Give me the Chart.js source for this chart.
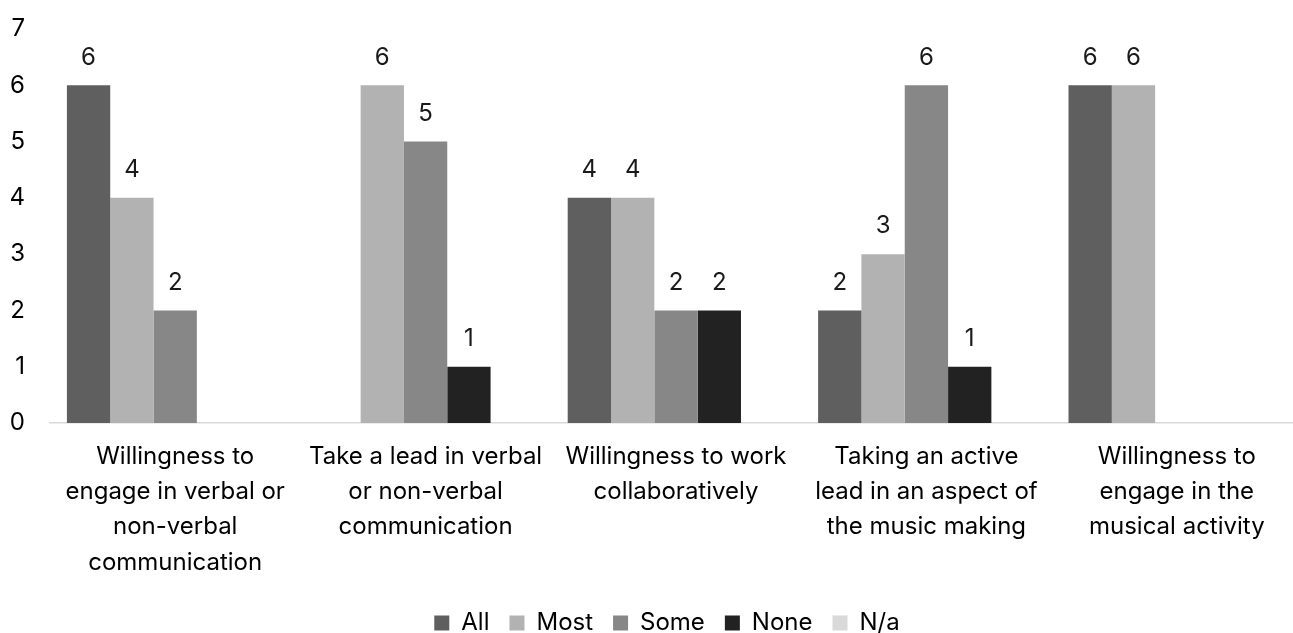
<!DOCTYPE html>
<html>
<head>
<meta charset="utf-8">
<script src="https://cdn.jsdelivr.net/npm/chart.js@4.4.1/dist/chart.umd.min.js"></script>
<style>
  html, body { margin: 0; padding: 0; background: #fff; overflow: hidden; }
  #wrap { width: 1323px; height: 645px; }
</style>
</head>
<body>
<div id="wrap"><canvas id="chart"></canvas></div>
<script>
// ===== DATA =====
const categories = [
  ['Willingness to', 'engage in verbal or', 'non-verbal', 'communication'],
  ['Take a lead in verbal', 'or non-verbal', 'communication'],
  ['Willingness to work', 'collaboratively'],
  ['Taking an active', 'lead in an aspect of', 'the music making'],
  ['Willingness to', 'engage in the', 'musical activity']
];
const seriesNames = ['All', 'Most', 'Some', 'None', 'N/a'];
const allVals  = [6, 0, 4, 2, 6];
const mostVals = [4, 6, 4, 3, 6];
const someVals = [2, 5, 2, 6, 0];
const noneVals = [0, 1, 2, 1, 0];
const naVals   = [0, 0, 0, 0, 0];
const yTicks = [0, 1, 2, 3, 4, 5, 6, 7];

const colors = ['#5f5f5f', '#b2b2b2', '#878787', '#222222', '#d9d9d9'];
const seriesVals = [allVals, mostVals, someVals, noneVals, naVals];

Chart.defaults.font.family = 'Inter, "Open Sans", sans-serif';
Chart.defaults.font.size = 24;
Chart.defaults.color = '#000';

// value labels above non-zero bars
const valueLabels = {
  id: 'valueLabels',
  afterDatasetsDraw(chart) {
    const ctx = chart.ctx;
    ctx.save();
    ctx.font = '24px Inter, "Open Sans", sans-serif';
    ctx.fillStyle = '#1a1a1a';
    ctx.textAlign = 'center';
    ctx.textBaseline = 'middle';
    chart.data.datasets.forEach((ds, i) => {
      const meta = chart.getDatasetMeta(i);
      meta.data.forEach((bar, j) => {
        if (!ds.data[j]) return;
        ctx.fillText(ds.data[j], bar.x, bar.y - 28);
      });
    });
    ctx.restore();
  }
};

const ctx = document.getElementById('chart').getContext('2d');
new Chart(ctx, {
  type: 'bar',
  data: {
    labels: categories,
    datasets: seriesNames.map((name, i) => ({
      label: name,
      data: seriesVals[i],
      backgroundColor: colors[i],
      borderWidth: 0,
      categoryPercentage: 0.865,
      barPercentage: 1
    }))
  },
  options: {
    responsive: true,
    maintainAspectRatio: false,
    animation: false,
    layout: { padding: { left: 11, top: 29, right: 0, bottom: 0 } },
    plugins: {
      tooltip: { enabled: false },
      legend: {
        position: 'bottom',
        labels: { boxWidth: 15, boxHeight: 15, padding: 20, color: '#000' }
      }
    },
    scales: {
      x: {
        grid: { display: false, drawTicks: false },
        border: { display: true, color: '#d9d9d9', width: 1.5 },
        ticks: { color: '#000', padding: 16, maxRotation: 0, autoSkip: false,
                 font: { size: 24, lineHeight: 1.47 } },
        afterFit(s) { s.height = 168; }
      },
      y: {
        min: 0, max: 7,
        grid: { display: false, drawTicks: false },
        border: { display: false },
        ticks: { padding: 25, color: '#000' },
        afterBuildTicks(s) { s.ticks = yTicks.map(v => ({ value: v })); },
        afterFit(s) { s.width = 39; s.paddingTop = 0; s.paddingBottom = 0; }
      },
      yR: {
        position: 'right',
        grid: { display: false, drawTicks: false },
        border: { display: false },
        ticks: { display: false },
        afterFit(s) { s.width = 21; s.paddingTop = 0; s.paddingBottom = 0; }
      }
    }
  },
  plugins: [valueLabels]
});
</script>
</body>
</html>
